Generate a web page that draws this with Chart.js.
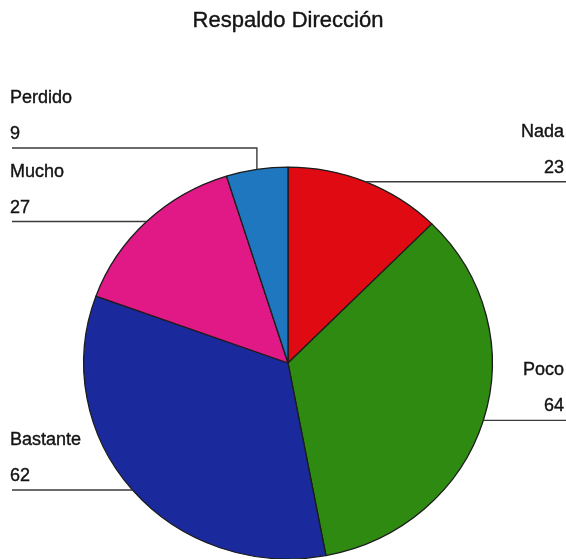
<!DOCTYPE html>
<html>
<head>
<meta charset="utf-8">
<script src="https://cdn.jsdelivr.net/npm/chart.js@4"></script>
<style>
  html, body { margin: 0; padding: 0; background: #fff; overflow: hidden; }
  #wrap { width: 566px; height: 600px; }
</style>
</head>
<body>
<div id="wrap"><canvas id="pieChart" width="566" height="600"></canvas></div>
<script>
const categories = ['Nada', 'Poco', 'Bastante', 'Mucho', 'Perdido'];
const values = [23, 64, 62, 27, 9];
const sliceColors = ['#df0a12', '#2f8a12', '#1a2a9c', '#e01986', '#1f78bf'];
const chartTitle = 'Respaldo Dirección';

// the scanned pie is a little wider than tall
const stretchX = 1.025;
const stretchY = 0.983;
// labels whose leader line bends up before going sideways
const elbowY = { Perdido: 148 };

const fontFamily = '"Liberation Sans", Arial, sans-serif';

const ellipsePlugin = {
    id: 'ellipse',
    beforeDatasetsDraw(chart) {
        const arc = chart.getDatasetMeta(0).data[0];
        const ctx = chart.ctx;
        ctx.save();
        ctx.translate(arc.x, arc.y);
        ctx.scale(stretchX, stretchY);
        ctx.translate(-arc.x, -arc.y);
    },
    afterDatasetsDraw(chart) {
        chart.ctx.restore();
    }
};

function heavyText(ctx, text, x, y) {
    ctx.fillText(text, x, y);
    ctx.strokeText(text, x, y);
}

const labelPlugin = {
    id: 'outerLabels',
    afterDraw(chart) {
        const ctx = chart.ctx;
        const meta = chart.getDatasetMeta(0);
        const W = chart.width;

        ctx.save();
        ctx.fillStyle = '#141414';
        ctx.textBaseline = 'alphabetic';

        ctx.font = '22px ' + fontFamily;
        ctx.textAlign = 'center';
        ctx.strokeStyle = '#141414';
        ctx.lineWidth = 0.4;
        heavyText(ctx, chartTitle, 288, 27);

        ctx.font = '18px ' + fontFamily;
        meta.data.forEach((arc, i) => {
            const mid = (arc.startAngle + arc.endAngle) / 2;
            const r = arc.outerRadius;
            const ax = arc.x + Math.cos(mid) * r * stretchX;
            const ay = arc.y + Math.sin(mid) * r * stretchY;
            const name = categories[i];
            const lineY = elbowY[name] !== undefined ? elbowY[name] : ay;
            const right = ax > arc.x;

            ctx.strokeStyle = '#3a3a3a';
            ctx.lineWidth = 1.4;
            ctx.beginPath();
            ctx.moveTo(ax, ay);
            if (lineY !== ay) ctx.lineTo(ax, lineY);
            ctx.lineTo(right ? W : 12, lineY);
            ctx.stroke();

            ctx.textAlign = right ? 'right' : 'left';
            ctx.strokeStyle = '#141414';
            ctx.lineWidth = 0.4;
            const tx = right ? 564 : 10;
            heavyText(ctx, name, tx, lineY - 45);
            heavyText(ctx, String(values[i]), tx, lineY - 9);
        });
        ctx.restore();
    }
};

const ctx = document.getElementById('pieChart').getContext('2d');
const pieChart = new Chart(ctx, {
    type: 'pie',
    data: {
        labels: categories,
        datasets: [{
            data: values,
            backgroundColor: sliceColors,
            borderColor: '#1c1c1c',
            borderWidth: 1.3
        }]
    },
    options: {
        responsive: false,
        animation: false,
        layout: {
            padding: { top: 163, bottom: 37, left: 88, right: 78 }
        },
        plugins: {
            legend: { display: false },
            tooltip: { enabled: false },
            title: { display: false }
        }
    },
    plugins: [ellipsePlugin, labelPlugin]
});
</script>
</body>
</html>
